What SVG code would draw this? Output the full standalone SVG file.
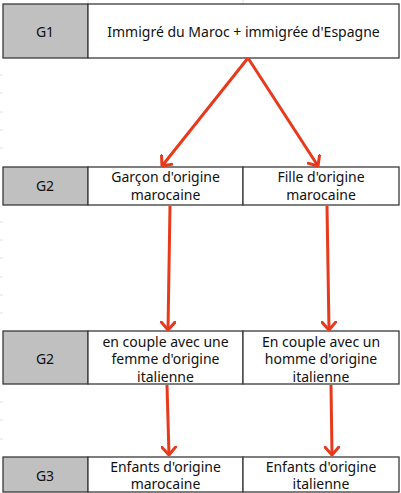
<svg xmlns="http://www.w3.org/2000/svg" width="401" height="493" viewBox="0 0 401 493">
<style>
.cell{fill:#ffffff;stroke:#3a3a3a;stroke-width:1.3}
.gen{fill:#c0c0c0;stroke:#3a3a3a;stroke-width:1.3}
text{font-family:"Noto Sans","DejaVu Sans",sans-serif;font-size:14px;fill:#111111;text-anchor:middle}
.arrow{stroke:#e8391d;stroke-width:3;fill:none;marker-end:url(#head)}
.grid{stroke:#e2e2e2;stroke-width:1}
</style>
<defs>
<marker id="head" viewBox="0 0 10 16" refX="9" refY="8" markerWidth="10" markerHeight="16" markerUnits="userSpaceOnUse" orient="auto">
<path d="M1,1 L9,8 L1,15" fill="none" stroke="#e8391d" stroke-width="3" stroke-linecap="round" stroke-linejoin="miter"/>
</marker>
</defs>
<rect width="401" height="493" fill="#ffffff"/>
<g id="grid">
<line class="grid" x1="88" y1="0" x2="88" y2="4"/>
<line class="grid" x1="243" y1="0" x2="243" y2="4"/>
<line class="grid" x1="0" y1="75" x2="3" y2="75"/>
<line class="grid" x1="0" y1="93" x2="3" y2="93"/>
<line class="grid" x1="0" y1="112" x2="3" y2="112"/>
<line class="grid" x1="0" y1="130" x2="3" y2="130"/>
<line class="grid" x1="0" y1="148" x2="3" y2="148"/>
<line class="grid" x1="0" y1="222" x2="3" y2="222"/>
<line class="grid" x1="0" y1="240" x2="3" y2="240"/>
<line class="grid" x1="0" y1="258" x2="3" y2="258"/>
<line class="grid" x1="0" y1="277" x2="3" y2="277"/>
<line class="grid" x1="0" y1="295" x2="3" y2="295"/>
<line class="grid" x1="0" y1="313" x2="3" y2="313"/>
<line class="grid" x1="0" y1="402" x2="3" y2="402"/>
<line class="grid" x1="0" y1="420" x2="3" y2="420"/>
<line class="grid" x1="0" y1="439" x2="3" y2="439"/>
</g>
<g id="row-g1">
<rect class="gen" x="3" y="4" width="85" height="54"/>
<text x="45" y="37">G1</text>
<rect id="node-parents" class="cell" x="88" y="4" width="311" height="54"/>
<text x="243.5" y="37">Immigré du Maroc + immigrée d'Espagne</text>
</g>
<g id="row-g2a">
<rect class="gen" x="3" y="167" width="85" height="38"/>
<text x="45" y="191">G2</text>
</g>
<g id="node-garcon">
<rect class="cell" x="88" y="167" width="155" height="38"/>
<text x="165.5" y="181.5">Garçon d'origine</text>
<text x="165.5" y="199.5">marocaine</text>
</g>
<g id="node-fille">
<rect class="cell" x="243" y="167" width="156" height="38"/>
<text x="321" y="181.5">Fille d'origine</text>
<text x="321" y="199.5">marocaine</text>
</g>
<g id="row-g2b">
<rect class="gen" x="3" y="331" width="85" height="53"/>
<text x="45" y="364">G2</text>
</g>
<g id="node-couple-femme">
<rect class="cell" x="88" y="331" width="155" height="53"/>
<text x="165.5" y="346.5">en couple avec une</text>
<text x="165.5" y="364">femme d'origine</text>
<text x="165.5" y="381.5">italienne</text>
</g>
<g id="node-couple-homme">
<rect class="cell" x="243" y="331" width="156" height="53"/>
<text x="321" y="346.5">En couple avec un</text>
<text x="321" y="364">homme d'origine</text>
<text x="321" y="381.5">italienne</text>
</g>
<g id="row-g3">
<rect class="gen" x="3" y="457" width="85" height="35"/>
<text x="45" y="481">G3</text>
</g>
<g id="node-enfants-maroc">
<rect class="cell" x="88" y="457" width="155" height="35"/>
<text x="165.5" y="471.5">Enfants d'origine</text>
<text x="165.5" y="489">marocaine</text>
</g>
<g id="node-enfants-italie">
<rect class="cell" x="243" y="457" width="156" height="35"/>
<text x="321" y="471.5">Enfants d'origine</text>
<text x="321" y="489">italienne</text>
</g>
<g id="connectors">
<line class="arrow" x1="248" y1="58" x2="162" y2="166"/>
<line class="arrow" x1="248" y1="58" x2="318" y2="166"/>
<line class="arrow" x1="170" y1="206" x2="168" y2="330"/>
<line class="arrow" x1="327" y1="206" x2="329" y2="330"/>
<line class="arrow" x1="167" y1="385" x2="169" y2="455"/>
<line class="arrow" x1="331" y1="385" x2="332" y2="455"/>
</g>
</svg>
